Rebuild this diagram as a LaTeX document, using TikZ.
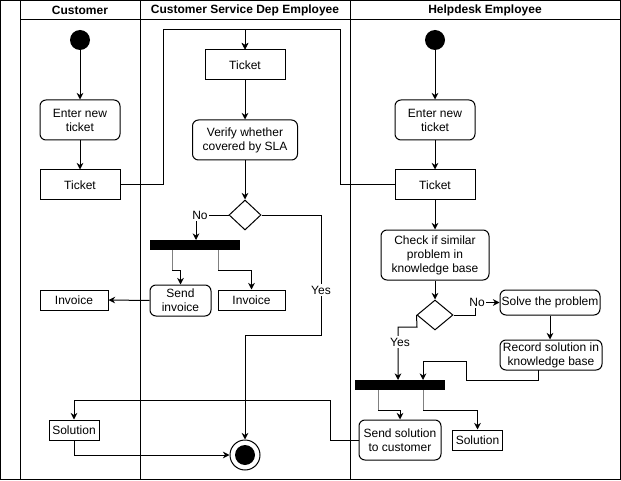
\documentclass[tikz,border=0pt]{standalone}
\usepackage{fontspec}
\setmainfont{Liberation Sans}
\usepackage{tikz}
\usetikzlibrary{shapes,arrows.meta,positioning}

\begin{document}
\begin{tikzpicture}[x=0.75pt,y=-0.75pt,font=\fontsize{9}{10.5}\selectfont,line width=0.75pt]
				\tikzstyle{Action}	= [rectangle, rounded corners=4.5pt, draw, fill=white, align=center, inner sep=1pt]
				\tikzstyle{Object}	= [rectangle, draw, fill=white, align=center, inner sep=1pt]
				\tikzstyle{Decision}	= [diamond, draw, fill=white, minimum width=24pt, minimum height=22.5pt, inner sep=0pt]
				\tikzstyle{Bar}		= [rectangle, fill=black, minimum width=67.5pt, minimum height=7.5pt, inner sep=0pt]
				\tikzstyle{Start}	= [circle, fill=black, minimum size=15pt, inner sep=0pt]
				\tikzstyle{Final}	= [circle, draw, fill=white, minimum size=22.5pt, inner sep=0pt]
				\tikzstyle{Flow}	= [-{Stealth[length=5pt,width=5pt]}]
				\tikzstyle{Stub}	= [gray]
				\tikzstyle{Guard}	= [fill=white, inner sep=1pt]
				\tikzstyle{Lane}	= [font=\fontsize{9}{10.5}\selectfont\bfseries]

				\useasboundingbox (0,0) rectangle (621,481);

				% swimlanes
				\draw (0.5,0.5) rectangle (620,479.5);
				\draw (20,0.5) -- (20,479.5);
				\draw (140.5,0.5) -- (140.5,479.5);
				\draw (350,0.5) -- (350,479.5);
				\draw (20,20) -- (620,20);
				\node (lCust) at (80,10) [Lane] {Customer};
				\node (lServ) at (245,10) [Lane] {Customer Service Dep Employee};
				\node (lHelp) at (485,10) [Lane] {Helpdesk Employee};

				% customer
				\node (cStart) at (80,40) [Start] {};
				\node (cEnter) at (80,120) [Action, minimum width=60pt, minimum height=30pt] {Enter new\\ticket};
				\node (cTicket) at (80,185) [Object, minimum width=60pt, minimum height=22.5pt] {Ticket};
				\node (cInvoice) at (74,300) [Object, minimum width=51pt, minimum height=15pt] {Invoice};
				\node (cSolution) at (74,430) [Object, minimum width=37.5pt, minimum height=15pt] {Solution};

				% customer service dep employee
				\node (sTicket) at (245,65) [Object, minimum width=60pt, minimum height=22.5pt] {Ticket};
				\node (sVerify) at (245,140) [Action, minimum width=78.75pt, minimum height=30pt] {Verify whether\\covered by SLA};
				\node (sDec) at (245,215) [Decision] {};
				\node (sFork) at (195,245) [Bar] {};
				\node (sSend) at (180.5,300.5) [Action, minimum width=45.75pt, minimum height=23.25pt] {Send\\invoice};
				\node (sInvoice) at (251.5,300) [Object, minimum width=50.25pt, minimum height=15pt] {Invoice};
				\node (sEnd) at (245,455) [Final] {};
				\node (sEndDot) at (sEnd) [Start] {};

				% helpdesk employee
				\node (hStart) at (435,40) [Start] {};
				\node (hEnter) at (435,120) [Action, minimum width=60pt, minimum height=30pt] {Enter new\\ticket};
				\node (hTicket) at (435,185) [Object, minimum width=60pt, minimum height=22.5pt] {Ticket};
				\node (hCheck) at (435,255) [Action, minimum width=81pt, minimum height=37.5pt] {Check if similar\\problem in\\knowledge base};
				\node (hDec) at (435,315) [Decision, minimum width=27pt] {};
				\node (hSolve) at (550,302.5) [Action, minimum width=75pt, minimum height=18.75pt] {Solve the problem};
				\node (hRecord) at (551,355) [Action, minimum width=76.5pt, minimum height=22.5pt] {Record solution in\\knowledge base};
				\node (hJoin) at (400,385) [Bar] {};
				\node (hSend) at (400,440) [Action, minimum width=61.5pt, minimum height=30pt] {Send solution\\to customer};
				\node (hSolution) at (477.5,440) [Object, minimum width=37.5pt, minimum height=15pt] {Solution};

				% bends
				\coordinate (tTop) at (163,30);
				\coordinate (tRight) at (340,30);
				\coordinate (noA) at (196,215);
				\coordinate (forkIn) at (196,240);
				\coordinate (f1a) at (172,250);
				\coordinate (f1b) at (172,270);
				\coordinate (f2a) at (218,250);
				\coordinate (f2b) at (218,270);
				\coordinate (yesA) at (321,335);
				\coordinate (hNo) at (475,302.5);
				\coordinate (hYesA) at (417,327);
				\coordinate (joinIn1) at (398,380);
				\coordinate (recA) at (538,370);
				\coordinate (joinIn2) at (423,380);
				\coordinate (j1a) at (378,390);
				\coordinate (j1b) at (378,410);
				\coordinate (j2a) at (423,390);
				\coordinate (j2b) at (423,410);
				\coordinate (solA) at (330,400);

				% flows
				\draw[Flow] (cStart) -- (cEnter);
				\draw[Flow] (cEnter) -- (cTicket);
				\draw[Flow] (cTicket.east) -| (tTop) -| (sTicket.north);
				\draw[Flow] (hTicket.west) -| (tRight) -| (sTicket.north);
				\draw[Flow] (sTicket) -- (sVerify);
				\draw[Flow] (sVerify) -- (sDec);
				\draw[Flow] (sDec.west) -- (noA) -- (forkIn);
				\node (noS) at (200,215) [Guard] {No};
				\draw[Stub] (f1a) -- (f1b);
				\draw[Flow] (f1b) -| (sSend.north);
				\draw[Stub] (f2a) -- (f2b);
				\draw[Flow] (f2b) -| (sInvoice.north);
				\draw[Flow] (sSend.west) -- (cInvoice.east);
				\draw[Flow] (sDec.east) -| (yesA) -| (sEnd.north);
				\node (yesS) at (321,290) [Guard] {Yes};
				\draw[Flow] (cSolution.south) |- (sEnd.west);

				\draw[Flow] (hStart) -- (hEnter);
				\draw[Flow] (hEnter) -- (hTicket);
				\draw[Flow] (hTicket) -- (hCheck);
				\draw[Flow] (hCheck) -- (hDec);
				\draw[Flow] (hDec.east) -| (hNo) -- (hSolve.west);
				\node (noH) at (477,302) [Guard] {No};
				\draw[Flow] (hSolve) -- (hRecord.north -| hSolve);
				\draw[Flow] (hDec.west) -- (hYesA) -| (joinIn1);
				\node (yesH) at (400,342) [Guard] {Yes};
				\draw[Flow] (recA) -- (538,380) -- (466,380) -- (466,361) -| (joinIn2);
				\draw[Stub] (j1a) -- (j1b);
				\draw[Flow] (j1b) -| (hSend.north);
				\draw[Stub] (j2a) -- (j2b);
				\draw[Flow] (j2b) -| (hSolution.north);
				\draw[Flow] (hSend.west) -| (solA) -| (cSolution.north);

			\end{tikzpicture}
\end{document}
